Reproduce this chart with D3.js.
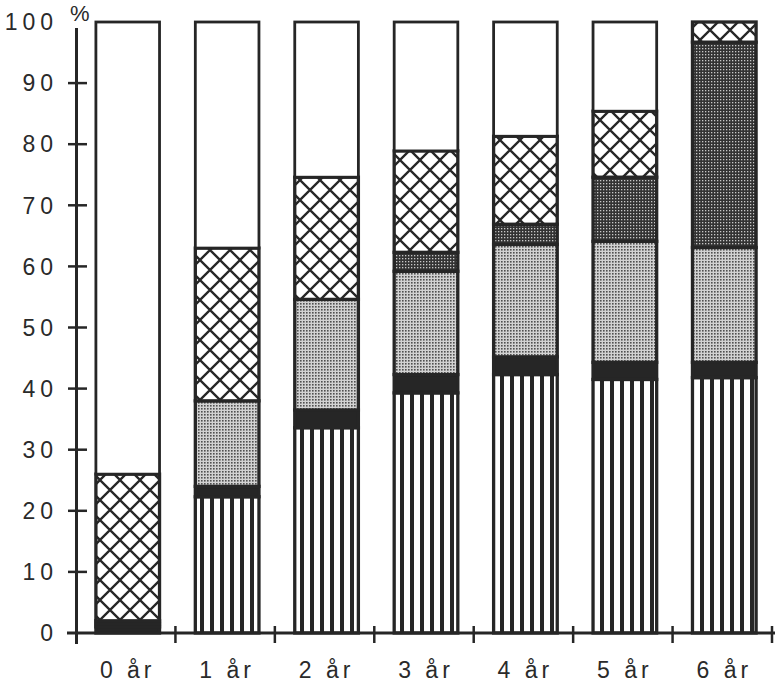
<!DOCTYPE html>
<html>
<head>
<meta charset="utf-8">
<script src="https://cdn.jsdelivr.net/npm/d3@7"></script>
<style>
  body { margin: 0; background: #fff; }
  text { font-family: "Liberation Sans", Arial, sans-serif; fill: #2a2a2a; }
</style>
</head>
<body>
<div class="container"></div>
<script>
// kategorier (ålder)
const categories = ['0 år', '1 år', '2 år', '3 år', '4 år', '5 år', '6 år']
// andelar i procent, nerifrån och upp
const stripes = [0, 22.3, 33.6, 39.3, 42.3, 41.5, 41.8]
const black   = [1.0, 1.7, 2.9, 3.0, 2.9, 2.8, 2.5]
const light   = [0.5, 14.0, 18.1, 16.9, 18.4, 19.8, 18.8]
const dark    = [0.5, 0, 0, 3.1, 3.3, 10.5, 33.6]
const cross   = [24.0, 25.0, 20.0, 16.6, 14.4, 10.8, 3.3]
const white   = [74.0, 37.0, 25.4, 21.1, 18.7, 14.6, 0]
const yTicks  = [0, 10, 20, 30, 40, 50, 60, 70, 80, 90, 100]

const keys = ['stripes', 'black', 'light', 'dark', 'cross', 'white']
const table = categories.map((c, i) => ({
  cat: c, stripes: stripes[i], black: black[i], light: light[i],
  dark: dark[i], cross: cross[i], white: white[i]
}))

const w = 775
const h = 686
const ink = '#262626'

const svg = d3.select('.container')
              .append('svg')
              .attr('width', w)
              .attr('height', h)

// mönster
const defs = svg.append('defs')

let pStripe = defs.append('pattern')
  .attr('id', 'p-stripes').attr('patternUnits', 'userSpaceOnUse')
  .attr('width', 10).attr('height', 10)
pStripe.append('rect').attr('width', 10).attr('height', 10).attr('fill', '#fff')
pStripe.append('rect').attr('x', 0).attr('width', 4).attr('height', 10).attr('fill', ink)

let pCross = defs.append('pattern')
  .attr('id', 'p-cross').attr('patternUnits', 'userSpaceOnUse')
  .attr('width', 20).attr('height', 20)
pCross.append('rect').attr('width', 20).attr('height', 20).attr('fill', '#fff')
pCross.append('path').attr('d', 'M0,0L20,20M20,0L0,20M-2,18L2,22M18,-2L22,2M-2,2L2,-2M18,22L22,18')
  .attr('stroke', ink).attr('stroke-width', 2.3)

let pLight = defs.append('pattern')
  .attr('id', 'p-light').attr('patternUnits', 'userSpaceOnUse')
  .attr('width', 3).attr('height', 3)
pLight.append('rect').attr('width', 3).attr('height', 3).attr('fill', '#d2d2d2')
pLight.append('rect').attr('width', 1.6).attr('height', 1.6).attr('fill', '#505050')

let pDark = defs.append('pattern')
  .attr('id', 'p-dark').attr('patternUnits', 'userSpaceOnUse')
  .attr('width', 3).attr('height', 3)
pDark.append('rect').attr('width', 3).attr('height', 3).attr('fill', '#333')
pDark.append('rect').attr('width', 1.3).attr('height', 1.3).attr('fill', '#c8c8c8')

const fills = {
  stripes: 'url(#p-stripes)',
  black: ink,
  light: 'url(#p-light)',
  dark: 'url(#p-dark)',
  cross: 'url(#p-cross)',
  white: '#fff'
}

// skalor
let xScale = d3.scaleBand()
               .domain(categories)
               .range([76, 772])
let yScale = d3.scaleLinear()
               .domain([0, 100])
               .range([633, 22])

const barW = xScale.bandwidth() * 0.64

// staplar
const stacked = d3.stack().keys(keys)(table)

let bars = svg.append('g').attr('class', 'bars')
stacked.forEach(s => {
  bars.append('g')
      .selectAll('rect')
      .data(s.filter(d => d[1] - d[0] > 0))
      .enter()
      .append('rect')
      .attr('x', d => xScale(d.data.cat) + (xScale.bandwidth() - barW) / 2 + 2)
      .attr('width', barW)
      .attr('y', d => yScale(d[1]))
      .attr('height', d => yScale(d[0]) - yScale(d[1]))
      .attr('fill', fills[s.key])
      .attr('stroke', ink)
      .attr('stroke-width', s.key == 'white' ? 2.8 : 3.3)
})

// y-axel
let yAxis = svg.append('g').attr('class', 'y-axis')
yAxis.append('line')
     .attr('x1', 76.5).attr('x2', 76.5)
     .attr('y1', yScale(99)).attr('y2', yScale(0) + 11)
     .attr('stroke', ink).attr('stroke-width', 3)
yAxis.selectAll('.tick')
     .data(yTicks.filter(d => d > 0 && d < 100))
     .enter()
     .append('line')
     .attr('x1', 68).attr('x2', 87)
     .attr('y1', d => yScale(d)).attr('y2', d => yScale(d))
     .attr('stroke', ink).attr('stroke-width', 2.5)
yAxis.selectAll('text')
     .data(yTicks)
     .enter()
     .append('text')
     .attr('x', 58)
     .attr('y', d => yScale(d))
     .attr('dy', '0.36em')
     .attr('text-anchor', 'end')
     .style('font-size', '23px')
     .style('letter-spacing', '5px')
     .text(d => d)
yAxis.append('text')
     .attr('x', 70).attr('y', 21)
     .style('font-size', '22px')
     .text('%')

// x-axel
let xAxis = svg.append('g').attr('class', 'x-axis')
xAxis.append('line')
     .attr('x1', 67).attr('x2', 775)
     .attr('y1', yScale(0)).attr('y2', yScale(0))
     .attr('stroke', ink).attr('stroke-width', 3)
xAxis.selectAll('.tick')
     .data(categories)
     .enter()
     .append('line')
     .attr('x1', d => xScale(d) + xScale.bandwidth())
     .attr('x2', d => xScale(d) + xScale.bandwidth())
     .attr('y1', yScale(0) - 7).attr('y2', yScale(0) + 10)
     .attr('stroke', ink).attr('stroke-width', 2.5)
xAxis.selectAll('text')
     .data(categories)
     .enter()
     .append('text')
     .attr('x', d => xScale(d) + xScale.bandwidth() / 2 + 2)
     .attr('y', 678)
     .attr('text-anchor', 'middle')
     .style('font-size', '23px')
     .style('letter-spacing', '4px')
     .text(d => d)
</script>
</body>
</html>
